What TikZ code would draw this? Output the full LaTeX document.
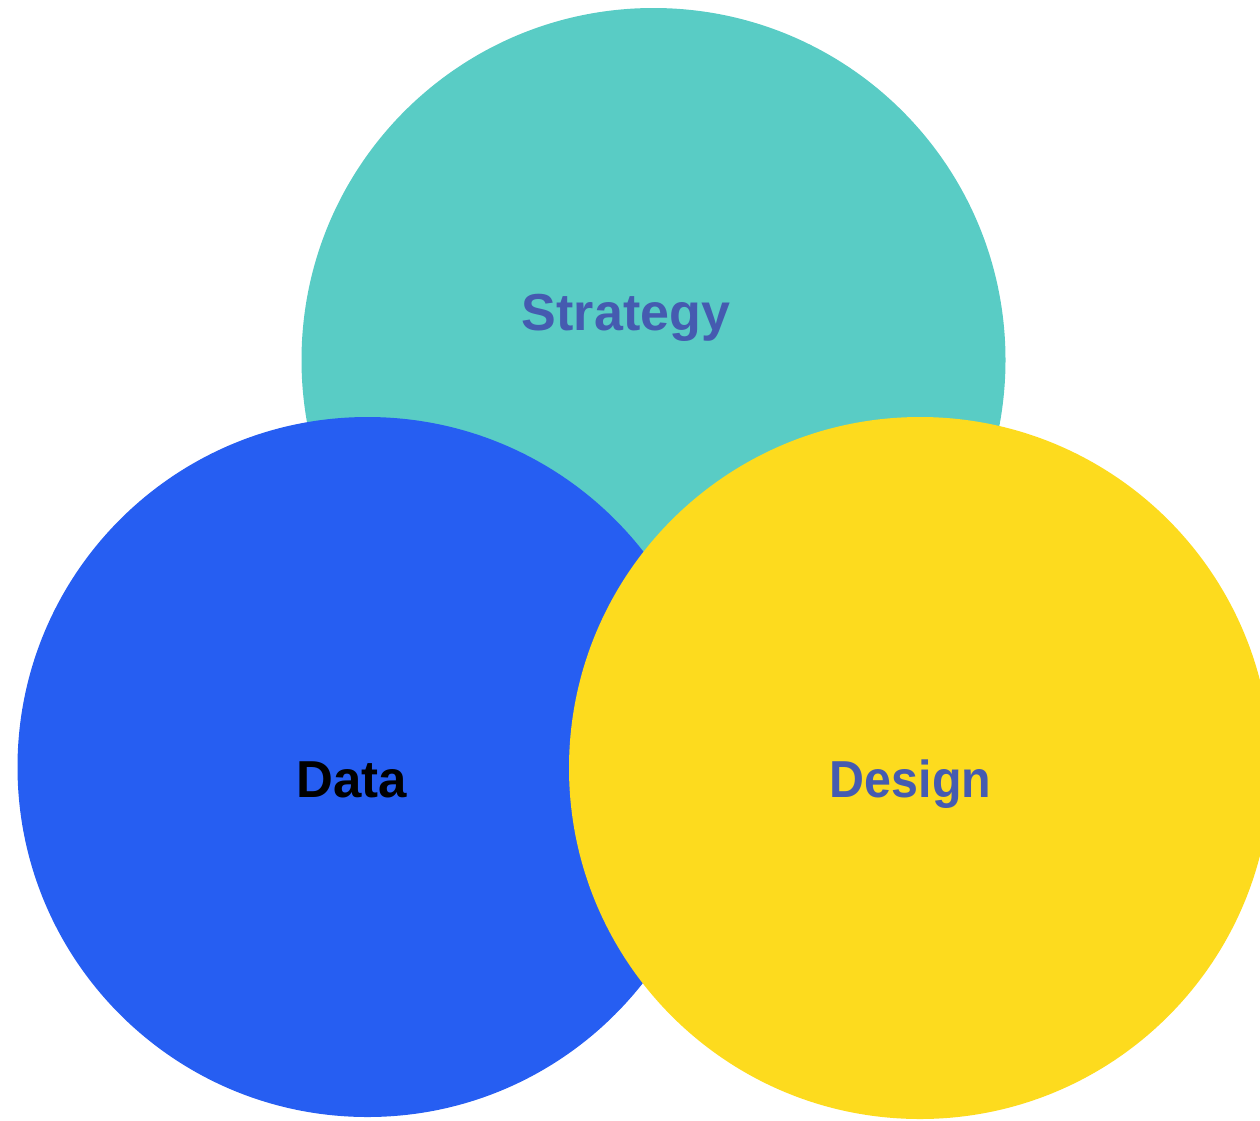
\documentclass[tikz,border=0pt]{standalone}
\usepackage{fontspec}
\setmainfont{Liberation Sans}
\definecolor{teal1}{HTML}{59CCC5}
\definecolor{blue1}{HTML}{265EF2}
\definecolor{yellow1}{HTML}{FDDB1E}
\definecolor{label1}{HTML}{455BB0}
\begin{document}
\begin{tikzpicture}[x=1pt,y=-1pt,
  circ/.style={circle,inner sep=0pt,outer sep=0pt,draw=none,minimum size=704pt},
  lbl/.style={font=\fontsize{52}{60}\selectfont\bfseries,anchor=base,inner sep=0pt}]
\useasboundingbox (0,0) rectangle (1260,1120);
\begin{scope}
\clip (0,0) rectangle (1260,1120);
\node[circ,fill=teal1] (strategy) at (653.5,360) {};
\node[circ,fill=blue1,minimum size=700pt] (data) at (367.5,767) {};
\node[circ,fill=yellow1,minimum size=702pt] (design) at (920,768) {};
\end{scope}
\node[lbl,text=label1] (tstrategy) at (626,330) {Strategy};
\node[lbl,text=black,xscale=0.98] (tdata) at (352,797) {Data};
\node[lbl,text=label1,xscale=0.93] (tdesign) at (910.5,797) {Design};
\end{tikzpicture}
\end{document}
